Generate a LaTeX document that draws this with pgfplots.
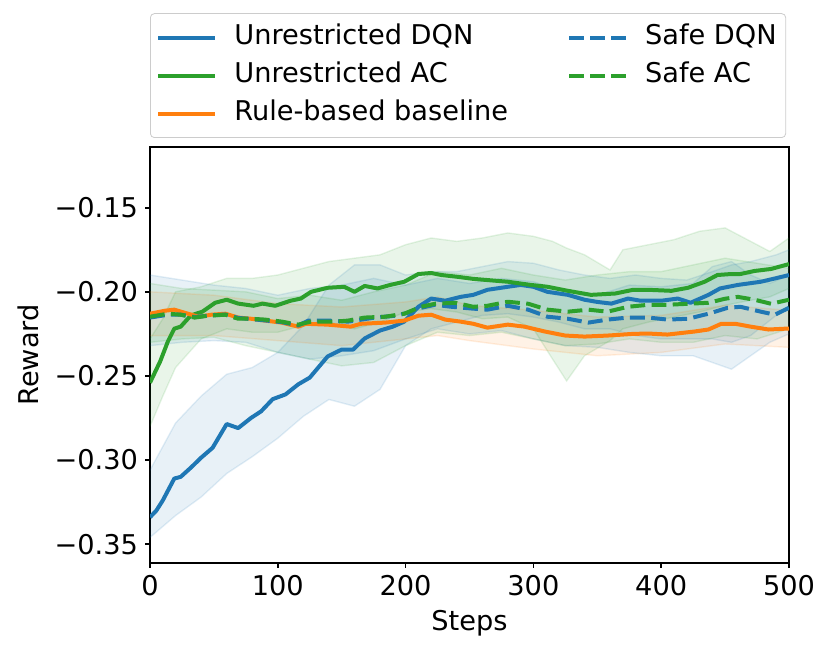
\documentclass[border=0pt]{standalone}
\usepackage{fontspec}
\setmainfont{DejaVu Sans}
\usepackage{pgfplots}
\usepackage{pgfplotstable}
\usepgfplotslibrary{fillbetween}
\pgfplotsset{compat=1.18}

\definecolor{tabblue}{HTML}{1F77B4}
\definecolor{taborange}{HTML}{FF7F0E}
\definecolor{tabgreen}{HTML}{2CA02C}

% mean curves
\pgfplotstableread{
x y
0 -0.334
5 -0.330
10 -0.324
19 -0.311
24 -0.310
32 -0.3045
40 -0.2986
49 -0.2927
60 -0.2786
69 -0.281
79 -0.275
87 -0.271
96 -0.2638
106 -0.261
116 -0.255
125 -0.251
139 -0.2384
150 -0.2343
159 -0.2343
168 -0.2277
180 -0.223
190 -0.2207
199 -0.2177
210 -0.2089
220 -0.204
231 -0.2053
243 -0.203
253 -0.2018
264 -0.1988
280 -0.197
290 -0.1959
300 -0.197
311 -0.200
327 -0.2018
340 -0.2047
350 -0.206
361 -0.207
374 -0.204
384 -0.2053
400 -0.2053
413 -0.204
423 -0.2065
437 -0.2018
446 -0.198
460 -0.1959
478 -0.194
491 -0.1917
500 -0.190
}\dqn

\pgfplotstableread{
x y
0 -0.254
8 -0.2413
14 -0.2295
19 -0.2219
24 -0.2207
32 -0.214
41 -0.2118
51 -0.2065
60 -0.2047
69 -0.207
81 -0.2083
88 -0.207
98 -0.2083
110 -0.2053
118 -0.204
126 -0.200
139 -0.1976
152 -0.197
160 -0.200
168 -0.1965
178 -0.198
188 -0.1959
199 -0.194
210 -0.1894
220 -0.1888
228 -0.190
241 -0.1911
253 -0.1923
264 -0.193
280 -0.194
298 -0.1959
311 -0.197
327 -0.1994
345 -0.2018
364 -0.201
378 -0.1988
390 -0.1988
408 -0.1994
421 -0.1976
434 -0.194
444 -0.190
455 -0.1894
462 -0.1894
473 -0.1876
486 -0.1864
500 -0.1835
}\ac

\pgfplotstableread{
x y
0 -0.213
12 -0.2112
19 -0.2106
27 -0.2124
38 -0.2148
48 -0.2136
59 -0.213
69 -0.2153
79 -0.216
90 -0.2171
103 -0.2183
116 -0.2207
122 -0.219
139 -0.2195
157 -0.2207
165 -0.219
184 -0.2183
199 -0.2171
210 -0.2142
220 -0.2136
231 -0.2165
243 -0.2177
253 -0.219
264 -0.2213
280 -0.2195
293 -0.2207
309 -0.2236
325 -0.226
340 -0.2266
358 -0.226
378 -0.2250
390 -0.2248
405 -0.2254
426 -0.2236
437 -0.2224
447 -0.219
458 -0.219
470 -0.2207
484 -0.2224
500 -0.2218
}\rulebase

\pgfplotstableread{
x y
0 -0.2153
14 -0.2136
24 -0.2136
35 -0.2150
48 -0.2140
59 -0.2135
69 -0.2155
79 -0.2162
90 -0.2170
103 -0.2180
116 -0.2200
124 -0.2171
139 -0.2171
155 -0.2177
176 -0.2153
192 -0.2142
202 -0.2124
212 -0.2095
223 -0.2077
236 -0.2089
253 -0.2100
264 -0.2106
280 -0.2083
296 -0.2106
311 -0.2148
327 -0.2160
343 -0.2183
358 -0.2165
374 -0.2153
390 -0.2153
405 -0.2165
421 -0.2160
437 -0.2130
452 -0.2095
462 -0.2089
478 -0.2118
489 -0.2136
500 -0.2095
}\safedqn

\pgfplotstableread{
x y
0 -0.2148
14 -0.2130
24 -0.2136
35 -0.2153
45 -0.2142
59 -0.2136
69 -0.2160
79 -0.2160
90 -0.2165
103 -0.2177
116 -0.2195
126 -0.2177
145 -0.2177
155 -0.2171
168 -0.2153
184 -0.2148
199 -0.2130
212 -0.2089
223 -0.2071
239 -0.2065
253 -0.2089
264 -0.2083
280 -0.2059
296 -0.2071
311 -0.2106
327 -0.2118
343 -0.2106
358 -0.2118
374 -0.2089
390 -0.2077
405 -0.2077
421 -0.2071
437 -0.2065
450 -0.2041
460 -0.2030
473 -0.2047
486 -0.2071
500 -0.2047
}\safeac

% shaded bands (lo / hi)
\pgfplotstableread{
x lo hi
0 -0.346 -0.306
20 -0.333 -0.278
40 -0.322 -0.262
60 -0.308 -0.249
80 -0.298 -0.245
100 -0.287 -0.236
120 -0.274 -0.220
140 -0.264 -0.196
160 -0.268 -0.184
180 -0.258 -0.184
200 -0.232 -0.190
220 -0.222 -0.188
240 -0.218 -0.188
260 -0.214 -0.185
280 -0.213 -0.182
300 -0.215 -0.183
320 -0.218 -0.187
340 -0.222 -0.190
360 -0.222 -0.192
380 -0.226 -0.190
400 -0.228 -0.192
420 -0.228 -0.193
440 -0.228 -0.188
455 -0.230 -0.184
470 -0.226 -0.182
490 -0.214 -0.178
500 -0.210 -0.175
}\dqnband

\pgfplotstableread{
x lo hi
0 -0.280 -0.228
10 -0.262 -0.216
20 -0.245 -0.200
40 -0.228 -0.197
60 -0.222 -0.192
80 -0.224 -0.192
100 -0.224 -0.190
120 -0.220 -0.186
140 -0.218 -0.182
160 -0.222 -0.180
180 -0.218 -0.178
200 -0.212 -0.172
220 -0.210 -0.168
240 -0.212 -0.170
260 -0.216 -0.168
280 -0.215 -0.165
300 -0.222 -0.167
315 -0.240 -0.170
326 -0.253 -0.174
340 -0.238 -0.178
360 -0.229 -0.187
370 -0.222 -0.175
390 -0.218 -0.172
410 -0.215 -0.169
430 -0.212 -0.164
450 -0.208 -0.162
470 -0.205 -0.170
485 -0.203 -0.176
500 -0.198 -0.168
}\acband

\pgfplotstableread{
x lo hi
0 -0.226 -0.200
50 -0.226 -0.202
100 -0.229 -0.207
150 -0.232 -0.209
200 -0.228 -0.206
225 -0.226 -0.203
250 -0.229 -0.208
300 -0.234 -0.211
350 -0.238 -0.215
400 -0.236 -0.214
450 -0.231 -0.208
500 -0.233 -0.211
}\ruleband

\pgfplotstableread{
x lo hi
0 -0.232 -0.190
25 -0.230 -0.193
50 -0.229 -0.196
75 -0.230 -0.198
100 -0.236 -0.202
125 -0.240 -0.198
150 -0.238 -0.196
175 -0.235 -0.192
200 -0.228 -0.196
225 -0.222 -0.192
250 -0.225 -0.195
275 -0.223 -0.192
300 -0.228 -0.194
325 -0.232 -0.200
350 -0.233 -0.202
375 -0.236 -0.196
400 -0.238 -0.197
425 -0.238 -0.195
440 -0.242 -0.185
455 -0.246 -0.182
470 -0.238 -0.190
485 -0.230 -0.195
500 -0.225 -0.190
}\safedqnband

\pgfplotstableread{
x lo hi
0 -0.230 -0.195
25 -0.228 -0.198
50 -0.227 -0.199
75 -0.232 -0.200
100 -0.236 -0.204
125 -0.240 -0.202
150 -0.244 -0.205
175 -0.242 -0.200
200 -0.232 -0.196
225 -0.224 -0.188
250 -0.226 -0.190
275 -0.224 -0.186
300 -0.228 -0.190
325 -0.232 -0.193
350 -0.231 -0.190
375 -0.228 -0.188
400 -0.230 -0.188
425 -0.230 -0.184
450 -0.226 -0.180
475 -0.228 -0.183
500 -0.222 -0.186
}\safeacband

\pgfplotsset{
  edge/.style={draw=#1, draw opacity=0.13, line width=0.7pt, forget plot},
  mean/.style={#1, line width=2pt, line join=round, forget plot},
}

\begin{document}
\begin{tikzpicture}
\begin{axis}[
  name=ax,
  scale only axis, width=319.5pt, height=208pt,
  xmin=0, xmax=500, ymin=-0.3612, ymax=-0.1139,
  axis line style={line width=0.8pt},
  tick align=outside, major tick length=2.5pt,
  tick style={black, line width=0.8pt},
  xtick pos=lower, ytick pos=left,
  xtick={0,100,...,500},
  ytick={-0.35,-0.30,-0.25,-0.20,-0.15},
  yticklabels={−0.35,−0.30,−0.25,−0.20,−0.15},
  /pgf/number format/assume math mode=true,
  tick label style={font=\fontsize{13.6}{16}\selectfont},
  label style={font=\fontsize{13.6}{16}\selectfont},
  xlabel={Steps}, ylabel={Reward},
  xlabel style={at={(axis description cs:0.5,-0.144)}, anchor=center},
  ylabel style={at={(axis description cs:-0.191,0.5)}, anchor=center},
  legend columns=2, legend cell align=left,
  legend image code/.code={\draw[#1] (0pt,0pt) -- (28.5pt,0pt);},
  legend style={at={(0,1)}, anchor=south west, yshift=4.5pt,
    draw=black!20, rounded corners=2pt, fill=white,
    font=\fontsize{13.6}{16}\selectfont,
    inner xsep=3pt, inner ysep=4pt, row sep=3pt,
    nodes={inner sep=1.5pt, text height=10pt, text depth=3pt},
    /tikz/every odd column/.append style={column sep=7pt},
    /tikz/every even column/.append style={column sep=28pt}},
]
% bands
\addplot[edge=tabblue, name path=dqnhi] table[x=x, y=hi]{\dqnband};
\addplot[edge=tabblue, name path=dqnlo] table[x=x, y=lo]{\dqnband};
\addplot[tabblue, fill opacity=0.1, forget plot] fill between[of=dqnhi and dqnlo];
\addplot[edge=tabgreen, name path=achi] table[x=x, y=hi]{\acband};
\addplot[edge=tabgreen, name path=aclo] table[x=x, y=lo]{\acband};
\addplot[tabgreen, fill opacity=0.1, forget plot] fill between[of=achi and aclo];
\addplot[edge=taborange, name path=rulehi] table[x=x, y=hi]{\ruleband};
\addplot[edge=taborange, name path=rulelo] table[x=x, y=lo]{\ruleband};
\addplot[taborange, fill opacity=0.1, forget plot] fill between[of=rulehi and rulelo];
\addplot[edge=tabblue, name path=sdqnhi] table[x=x, y=hi]{\safedqnband};
\addplot[edge=tabblue, name path=sdqnlo] table[x=x, y=lo]{\safedqnband};
\addplot[tabblue, fill opacity=0.1, forget plot] fill between[of=sdqnhi and sdqnlo];
\addplot[edge=tabgreen, name path=sachi] table[x=x, y=hi]{\safeacband};
\addplot[edge=tabgreen, name path=saclo] table[x=x, y=lo]{\safeacband};
\addplot[tabgreen, fill opacity=0.1, forget plot] fill between[of=sachi and saclo];
% means
\addplot[mean=tabblue] table{\dqn};
\addplot[mean=tabgreen] table{\ac};
\addplot[mean=taborange] table{\rulebase};
\addplot[mean=tabblue, dash pattern=on 7.4pt off 3.2pt] table{\safedqn};
\addplot[mean=tabgreen, dash pattern=on 7.4pt off 3.2pt] table{\safeac};
% legend, filled row by row
\addlegendimage{tabblue, line width=2pt}
\addlegendentry{Unrestricted DQN}
\addlegendimage{tabblue, line width=2pt, dash pattern=on 7.4pt off 3.2pt}
\addlegendentry{Safe DQN}
\addlegendimage{tabgreen, line width=2pt}
\addlegendentry{Unrestricted AC}
\addlegendimage{tabgreen, line width=2pt, dash pattern=on 7.4pt off 3.2pt}
\addlegendentry{Safe AC}
\addlegendimage{taborange, line width=2pt}
\addlegendentry{Rule-based baseline}
\end{axis}
\path ([xshift=-75pt, yshift=-45pt]ax.south west) rectangle ([xshift=20.5pt, yshift=73.5pt]ax.north east);
\end{tikzpicture}
\end{document}
